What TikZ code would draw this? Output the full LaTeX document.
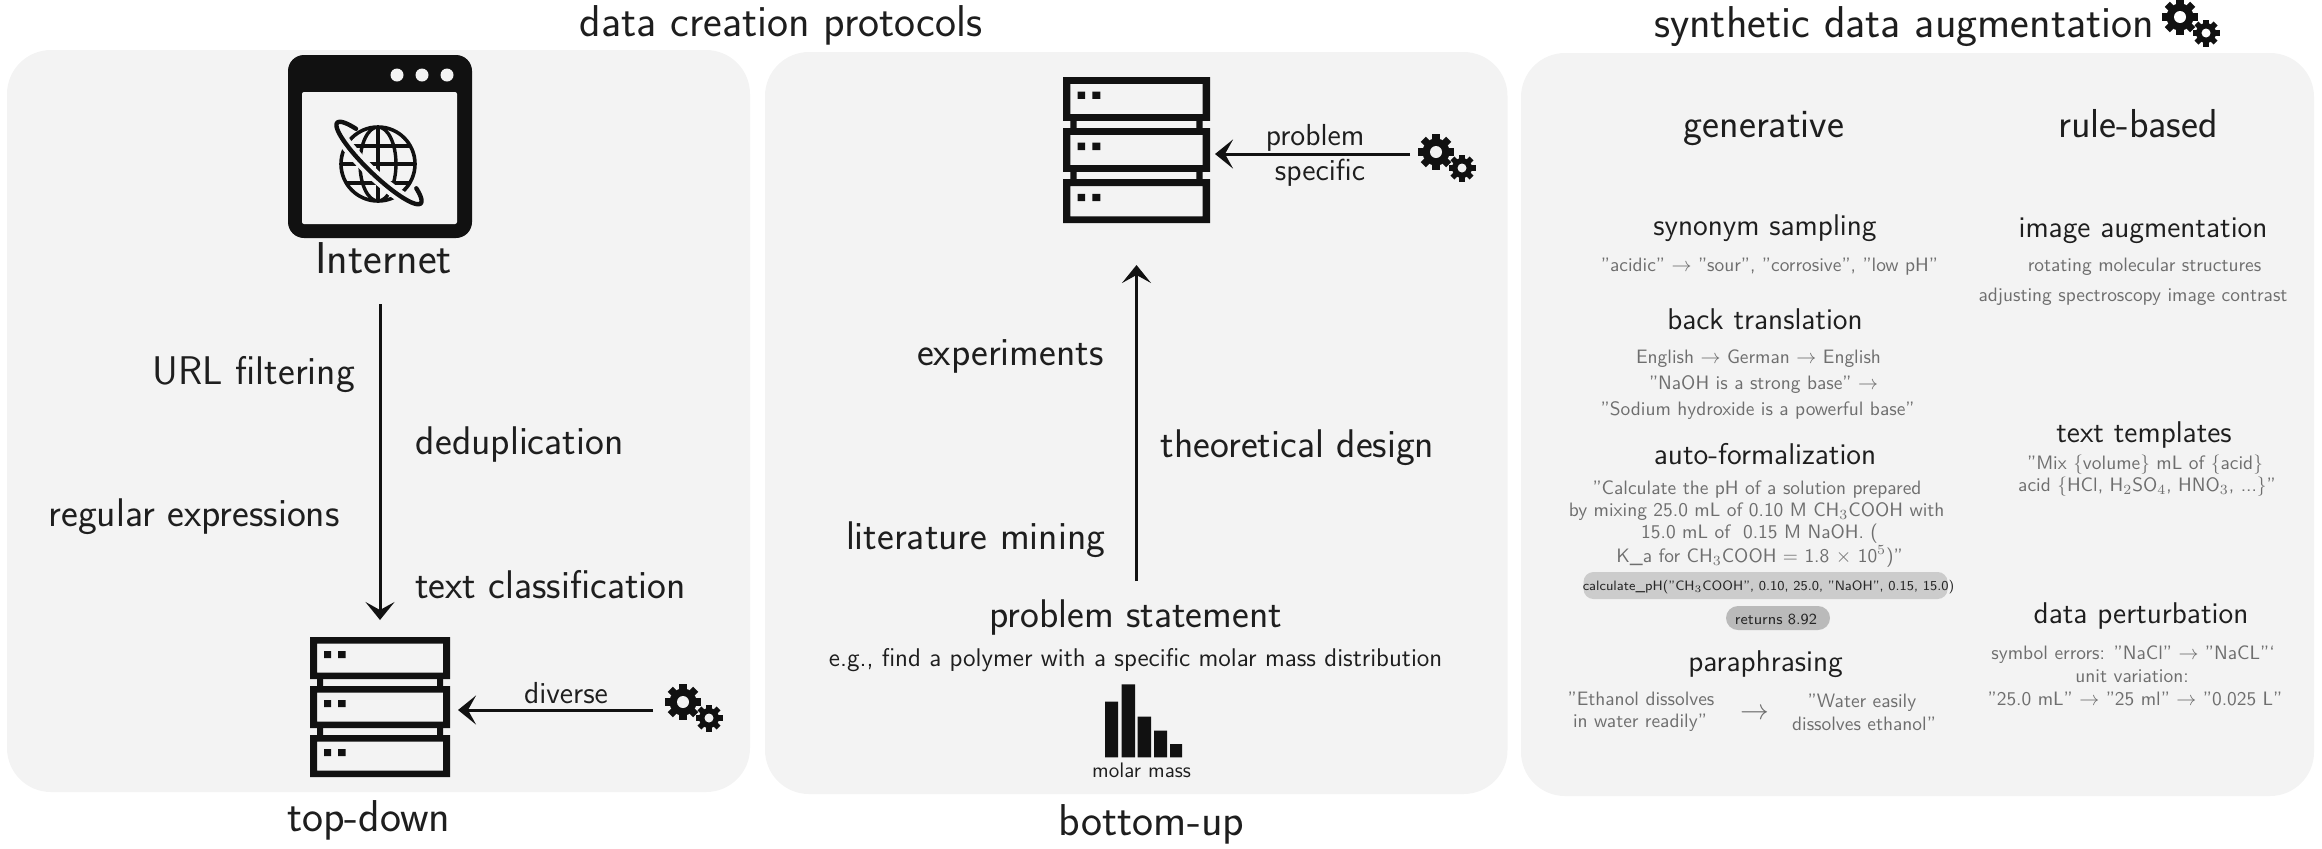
\documentclass[tikz,border=0pt]{standalone}
\usepackage{fontspec}
\usetikzlibrary{arrows.meta}
\definecolor{panelgray}{HTML}{F3F3F3}
\definecolor{ink}{HTML}{111111}
\definecolor{labelink}{HTML}{1E1E1E}
\definecolor{graytext}{HTML}{6E6E6E}
\tikzset{
  x=0.5pt,y=-0.5pt,
  panel/.style={fill=panelgray,rounded corners=22pt},
  txt/.style={anchor=base,inner sep=0pt,outer sep=0pt,text=labelink},
  title label/.style={txt,font=\sffamily\fontsize{22.3}{26}\selectfont},
  huge label/.style={txt,yshift=-0.75pt,font=\sffamily\fontsize{20}{24}\selectfont},
  head label/.style={txt,yshift=-0.75pt,font=\sffamily\fontsize{20.2}{24}\selectfont},
  sub label/.style={txt,yshift=-0.75pt,font=\sffamily\fontsize{15}{18}\selectfont},
  gray label/.style={txt,text=graytext,font=\sffamily\fontsize{9.7}{12}\selectfont},
  small label/.style={txt,yshift=-0.5pt,font=\sffamily\fontsize{15.2}{18}\selectfont},
  note label/.style={txt,yshift=-0.5pt,font=\sffamily\fontsize{12.8}{15}\selectfont},
  pill text/.style={txt,text=black!85,font=\sffamily\fontsize{6.8}{8}\selectfont},
  pill text b/.style={txt,text=black!85,font=\sffamily\fontsize{7.7}{9}\selectfont},
  flow/.style={draw=ink,line width=1.5pt,-{Stealth[length=9pt,width=14.5pt,inset=4pt]}},
  stackbox/.style={inner sep=0pt,outer sep=0pt,draw=none},
  pics/gearpair/.style={code={
    \foreach \a in {0,45,90,135}{\fill[ink,rotate=\a] (-3.6,-18) rectangle (3.6,18);}
    \fill[ink] (0,0) circle[radius=13.5];
    \fill[#1] (0,0) circle[radius=6];
    \begin{scope}[shift={(26,16)}]
      \foreach \a in {0,45,90,135}{\fill[ink,rotate=\a] (-2.8,-13.5) rectangle (2.8,13.5);}
      \fill[ink] (0,0) circle[radius=10];
      \fill[#1] (0,0) circle[radius=4.5];
    \end{scope}
  }},
  pics/serverstack/.style={code={
    \foreach \t in {0,49,98}{
      \fill[ink,even odd rule] (0,\t) rectangle (140,\t+42) (7,\t+6.5) rectangle (133,\t+35.5);
      \fill[ink] (14,\t+14) rectangle (21,\t+21) (28,\t+14) rectangle (35.5,\t+21);
    }
    \foreach \t in {42,91}{
      \fill[ink] (7,\t) rectangle (13,\t+7) (127,\t) rectangle (133,\t+7);
    }
  }},
}
\begin{document}
\begin{tikzpicture}
\useasboundingbox (0,0) rectangle (2322,848);
% panels
\path[panel] (7,50) rectangle (750,792);
\path[panel] (765,52) rectangle (1507.5,794);
\path[panel] (1521,53) rectangle (2314,796);
% titles
\node[title label] (title1) at (781,36) {data creation protocols};
\node[title label] (title2) at (1904,37) {synthetic data augmentation};
\pic at (2180,17) {gearpair=white};
% Internet window icon
\fill[ink,rounded corners=8pt] (288,55) rectangle (472,238);
\fill[panelgray,rounded corners=1pt] (302,92) rectangle (457,224);
\foreach \c in {397,422,447}{\fill[panelgray] (\c,75) circle[radius=6.5];}
\begin{scope}
  \draw[ink,line width=1.8pt] (378,164) circle[radius=37];
  \clip (378,164) circle[radius=37];
  \draw[ink,line width=1.7pt] (378,164) ellipse[x radius=18,y radius=37];
  \draw[ink,line width=1.7pt] (378,120) -- (378,205);
  \draw[ink,line width=1.7pt] (335,146) -- (420,146) (335,164) -- (420,164) (335,183) -- (420,183);
\end{scope}
\begin{scope}[shift={(379,163)},rotate=-44]
  \draw[panelgray,line width=6pt] plot[domain=175:5,samples=40,variable=\t] ({58*cos(\t)},{12*sin(\t)});
  \draw[ink,line width=2.2pt,line cap=round] plot[domain=226:-40,samples=70,variable=\t] ({58*cos(\t)},{12*sin(\t)});
\end{scope}
\node[title label] (internet) at (383.6,273) {Internet};
% top-down
\node[huge label] (urlf) at (254,383) {URL filtering};
\node[huge label] (dedup) at (519.7,453) {deduplication};
\node[huge label] (regex) at (194,525) {regular expressions};
\node[huge label] (textc) at (550.5,597) {text classification};
\node[title label] (topdown) at (368.7,831) {top-down};
\node[stackbox,minimum width=70pt,minimum height=70pt] (srvA) at (380,707) {};
\pic at (310,637) {serverstack};
\coordinate (a1start) at (380,304);
\draw[flow,shorten >=8.5pt] (a1start) -- (srvA.north);
\coordinate (gearAout) at (653,710);
\coordinate (srvAin) at (458,710);
\draw[flow] (gearAout) -- (srvAin);
\node[small label] (diverse) at (566,702) {diverse};
\pic at (683,702) {gearpair=panelgray};
% bottom-up
\node[stackbox,minimum width=73.5pt,minimum height=73pt] (srvB) at (1136.5,150) {};
\pic[xscale=1.05,yscale=1.043] at (1063,77) {serverstack};
\coordinate (a2start) at (1136.5,581);
\draw[flow,shorten >=21pt] (a2start) -- (srvB.south);
\coordinate (gearBout) at (1410,154);
\coordinate (srvBin) at (1215,154);
\draw[flow] (gearBout) -- (srvBin);
\node[small label] (prob) at (1315,144) {problem};
\node[small label] (spec) at (1320,179) {specific};
\pic at (1436,152) {gearpair=panelgray};
\node[huge label] (expe) at (1010.4,364) {experiments};
\node[huge label] (theo) at (1297.6,456) {theoretical design};
\node[huge label] (litm) at (975.6,548) {literature mining};
\node[huge label] (pstat) at (1135.6,626) {problem statement};
\node[note label] (eg) at (1135.6,665) {e.g., find a polymer with a specific molar mass distribution};
\fill[ink] (1105,701.7) rectangle (1118,757.3)
           (1121.7,684.3) rectangle (1135.2,757.3)
           (1137.6,716.7) rectangle (1151.2,757.3)
           (1154,730.7) rectangle (1167.2,757.3)
           (1170,744) rectangle (1182,757.3);
\node[txt,font=\sffamily\fontsize{10.5}{12}\selectfont] (molar) at (1141.6,777) {molar mass};
\node[title label] (botup) at (1151.5,835) {bottom-up};
% augmentation columns
\node[head label] (gen) at (1764,136) {generative};
\node[head label] (rule) at (2138,136) {rule-based};
\node[sub label] (syn) at (1765,234) {synonym sampling};
\node[gray label] (syn1) at (1769.5,271) {"acidic" $\rightarrow$ "sour", "corrosive", "low pH"};
\node[sub label] (back) at (1765,328) {back translation};
\node[gray label] (back1) at (1758.5,363) {English $\rightarrow$ German $\rightarrow$ English};
\node[gray label] (back2) at (1763.5,389) {"NaOH is a strong base" $\rightarrow$};
\node[gray label] (back3) at (1757.6,415) {"Sodium hydroxide is a powerful base"};
\node[sub label] (auto) at (1765,463) {auto-formalization};
\node[gray label] (auto1) at (1757,494) {"Calculate the pH of a solution prepared};
\node[gray label] (auto2) at (1756.6,516) {by mixing 25.0 mL of 0.10 M CH$_3$COOH with};
\node[gray label] (auto3) at (1759.6,538) {15.0 mL of \ 0.15 M NaOH. (};
\node[gray label] (auto4) at (1759.6,562) {K\_a for CH$_3$COOH = 1.8 $\times$ 10$^5$)"};
\fill[black!20,rounded corners=5pt] (1583.5,572) rectangle (1947.6,599);
\node[pill text] (pill1) at (1768.5,590) {calculate\_pH("CH$_3$COOH", 0.10, 25.0, "NaOH", 0.15, 15.0)};
\fill[black!27,rounded corners=6pt] (1726,606) rectangle (1830,630);
\node[pill text b] (pill2) at (1776,624) {returns 8.92};
\node[sub label] (para) at (1765.5,670) {paraphrasing};
\node[gray label] (para1) at (1641,705) {"Ethanol dissolves};
\node[gray label] (para2) at (1640,727) {in water readily"};
\node[txt,text=graytext,font=\sffamily\fontsize{15}{18}\selectfont] (paraarrow) at (1755,719) {$\rightarrow$};
\node[gray label] (para3) at (1862,707) {"Water easily};
\node[gray label] (para4) at (1864,730) {dissolves ethanol"};
\node[sub label] (img) at (2143,236) {image augmentation};
\node[gray label] (img1) at (2144.5,271) {rotating molecular structures};
\node[gray label] (img2) at (2133,301) {adjusting spectroscopy image contrast};
\node[sub label] (tmpl) at (2144,441) {text templates};
\node[gray label] (tmpl1) at (2145,469) {"Mix \{volume\} mL of \{acid\}};
\node[gray label] (tmpl2) at (2147,491) {acid \{HCl, H$_2$SO$_4$, HNO$_3$, ...\}"};
\node[sub label] (pert) at (2141,622) {data perturbation};
\node[gray label] (pert1) at (2133,659) {symbol errors: "NaCl" $\rightarrow$ "NaCL"`};
\node[gray label] (pert2) at (2132,682) {unit variation:};
\node[gray label] (pert3) at (2135,705) {"25.0 mL" $\rightarrow$ "25 ml" $\rightarrow$ "0.025 L"};
\end{tikzpicture}
\end{document}
